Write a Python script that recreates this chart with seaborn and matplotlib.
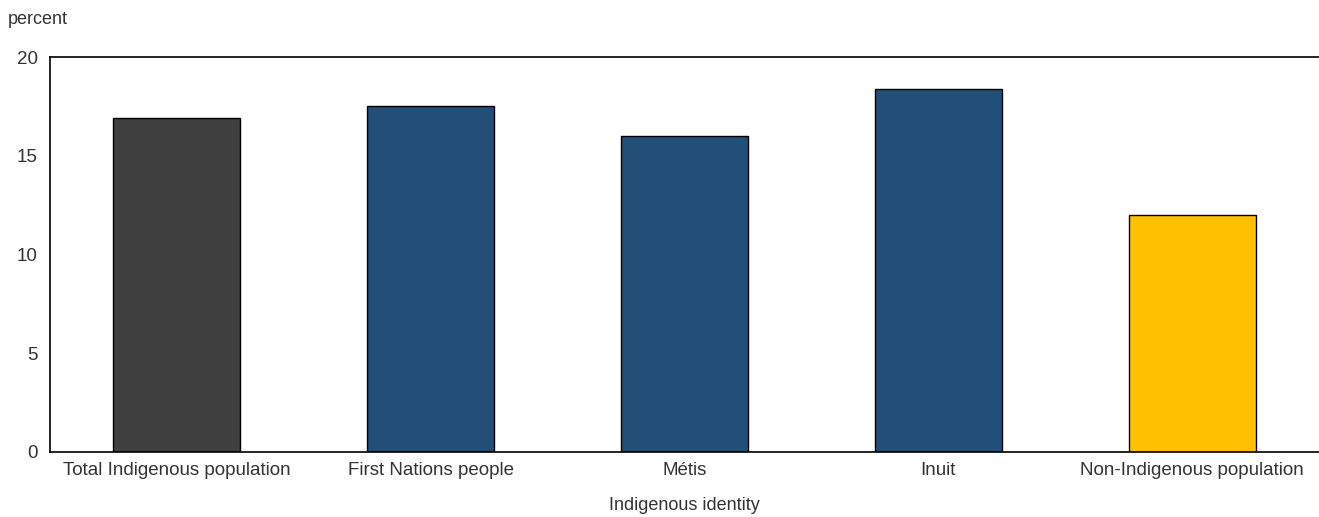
import pandas as pd
import seaborn as sns
import matplotlib.pyplot as plt
from matplotlib import font_manager

categories = ['Total Indigenous population', 'First Nations people', 'Métis', 'Inuit',
              'Non-Indigenous population']
values = [16.9, 17.5, 16.0, 18.4, 12.0]
bar_colors = ['#404040', '#224f78', '#224f78', '#224f78', '#ffc000']

sns.set_style('white')
names = {f.name for f in font_manager.fontManager.ttflist}
fam = 'Liberation Sans Narrow' if 'Liberation Sans Narrow' in names else 'Liberation Sans'
plt.rcParams['font.family'] = [fam, 'DejaVu Sans']
txt = '#333333'

df = pd.DataFrame({'identity': categories, 'pct': values})

fig = plt.figure(figsize=(13.19, 5.17), dpi=100)
ax = fig.add_axes([50 / 1319, 65 / 517, 1 - 50 / 1319, 395 / 517])
sns.barplot(data=df, x='identity', y='pct', hue='identity', palette=bar_colors,
            saturation=1, width=0.5, edgecolor='black', linewidth=1, legend=False, ax=ax)

ax.set_ylim(0, 20)
ax.set_xlim(-0.5, 4.5)
ax.set_yticks([0, 5, 10, 15, 20])
ax.tick_params(axis='both', length=0, labelsize=13.5, colors=txt, pad=9)
ax.tick_params(axis='x', pad=7)
ax.set_ylabel('')
ax.set_xlabel('Indigenous identity', fontsize=13, color=txt, labelpad=13)
for s in ['left', 'top', 'bottom']:
    ax.spines[s].set_visible(True)
    ax.spines[s].set_color('black')
    ax.spines[s].set_linewidth(1.2)
ax.spines['right'].set_visible(False)
fig.text(8 / 1319, 1 - 20 / 517, 'percent', fontsize=13, color=txt, va='center', ha='left')

fig.savefig('out.png', dpi=100)
